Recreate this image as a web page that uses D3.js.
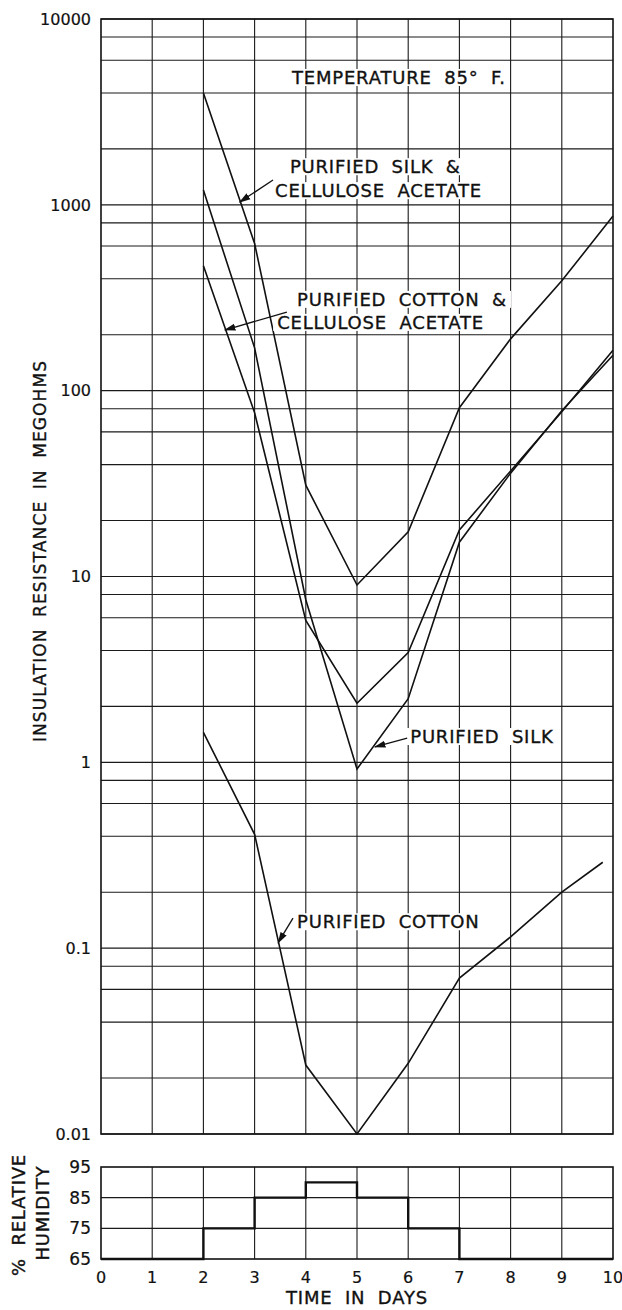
<!DOCTYPE html>
<html>
<head>
<meta charset="utf-8">
<script src="https://cdn.jsdelivr.net/npm/d3@7"></script>
<style>
  body { margin: 0; background: #fff; }
  svg text { font-family: "DejaVu Sans", sans-serif; fill: #111; stroke: #111; stroke-width: 0.35px; }
  .lbl { font-size: 18px; letter-spacing: 0.8px; word-spacing: 6px; }
  .ytitle { font-size: 17px; letter-spacing: 1.1px; word-spacing: 5px; }
  .tick-lbl { font-size: 16px; stroke-width: 0.2px; }
</style>
</head>
<body>
<script>
// insulation resistance (megohms) vs time in days, temperature 85 F
const silkAcetateDays = [2, 3, 4, 5, 6, 7, 8, 9, 10];
const silkAcetate = [4000, 620, 31, 9.0, 17.4, 81, 190, 390, 870];

const silkDays = [2, 3, 4, 5, 6, 7, 8, 9, 10];
const silk = [1200, 170, 7.5, 0.92, 2.2, 15.3, 36, 78, 155];

const cottonAcetateDays = [2, 3, 4, 5, 6, 7, 8, 9, 10];
const cottonAcetate = [470, 76, 5.8, 2.08, 3.9, 17.8, 37, 77, 165];

const cottonDays = [2, 3, 4, 5, 6, 7, 8, 9, 9.8];
const cotton = [1.45, 0.41, 0.0235, 0.01, 0.024, 0.069, 0.115, 0.2, 0.29];

// relative humidity schedule
const humidityDays = [0, 2, 3, 4, 5, 6, 7, 10];
const humidity = [65, 75, 85, 90, 85, 75, 65, 65];

const dayTicks = d3.range(0, 11);
const resTicks = [10000, 1000, 100, 10, 1, 0.1, 0.01];
const resTickLabels = ["10000", "1000", "100", "10", "1", "0.1", "0.01"];
const humTicks = [65, 75, 85, 95];

// annotation anchors in data units (day, megohms)
const labels = [
    { text: "TEMPERATURE  85° F.", day: 3.73, val: 4470 },
    { text: "PURIFIED  SILK  &", day: 3.69, val: 1480 },
    { text: "CELLULOSE  ACETATE", day: 3.40, val: 1100 },
    { text: "PURIFIED  COTTON  &", day: 3.83, val: 286 },
    { text: "CELLULOSE  ACETATE", day: 3.44, val: 215 },
    { text: "PURIFIED  SILK", day: 6.04, val: 1.27 },
    { text: "PURIFIED  COTTON", day: 3.83, val: 0.128 },
];
const arrows = [
    { from: [3.36, 1360], to: [2.71, 1035] },
    { from: [3.63, 265], to: [2.42, 212] },
    { from: [5.98, 1.35], to: [5.35, 1.21] },
    { from: [3.75, 0.145], to: [3.46, 0.107] },
];

const width = 622;
const height = 1310;

const svg = d3.select("body")
    .append("svg")
    .attr("width", width)
    .attr("height", height);

svg.append("defs").append("marker")
    .attr("id", "head")
    .attr("viewBox", "0 0 10 10")
    .attr("refX", 9)
    .attr("refY", 5)
    .attr("markerWidth", 9)
    .attr("markerHeight", 9)
    .attr("orient", "auto")
    .append("path")
    .attr("d", "M0,2 L10,5 L0,8 Z")
    .attr("fill", "#111");

const x = d3.scaleLinear().domain([0, 10]).range([101, 613]);
const y = d3.scaleLog().domain([0.01, 10000]).range([1134, 19]);
const yh = d3.scaleLinear().domain([65, 95]).range([1259, 1167]);

// ---- main grid
const grid = svg.append("g").attr("stroke", "#1a1a1a").attr("stroke-width", 1.1);

const hLines = [];
for (let k = -2; k < 4; k++) {
    [2, 4, 6, 8].forEach((m) => hLines.push(m * Math.pow(10, k)));
}
resTicks.forEach((v) => hLines.push(v));

grid.selectAll(".hl")
    .data(hLines)
    .enter()
    .append("line")
    .attr("x1", x(0))
    .attr("x2", x(10))
    .attr("y1", (d) => y(d))
    .attr("y2", (d) => y(d));

grid.selectAll(".vl")
    .data(dayTicks.slice(1, 10))
    .enter()
    .append("line")
    .attr("x1", (d) => x(d))
    .attr("x2", (d) => x(d))
    .attr("y1", y(10000))
    .attr("y2", y(0.01));

svg.append("rect")
    .attr("x", x(0))
    .attr("y", y(10000))
    .attr("width", x(10) - x(0))
    .attr("height", y(0.01) - y(10000))
    .attr("fill", "none")
    .attr("stroke", "#111")
    .attr("stroke-width", 1.6);

// y tick labels
svg.selectAll(".ylab")
    .data(resTicks)
    .enter()
    .append("text")
    .attr("class", "tick-lbl")
    .attr("x", x(0) - 10)
    .attr("y", (d) => y(d))
    .attr("dy", "0.36em")
    .attr("text-anchor", "end")
    .text((d, i) => resTickLabels[i]);

svg.append("text")
    .attr("class", "ytitle")
    .attr("transform", "translate(46, 551) rotate(-90)")
    .attr("text-anchor", "middle")
    .text("INSULATION  RESISTANCE  IN  MEGOHMS");

// ---- series
const line = d3.line()
    .x((d) => x(d[0]))
    .y((d) => y(d[1]));

const series = [
    d3.zip(silkAcetateDays, silkAcetate),
    d3.zip(silkDays, silk),
    d3.zip(cottonAcetateDays, cottonAcetate),
    d3.zip(cottonDays, cotton),
];

svg.selectAll(".series")
    .data(series)
    .enter()
    .append("path")
    .attr("d", line)
    .attr("fill", "none")
    .attr("stroke", "#111")
    .attr("stroke-width", 1.6);

// ---- labels with white backing
const lg = svg.append("g");
labels.forEach((l) => {
    const t = lg.append("text")
        .attr("class", "lbl")
        .attr("x", x(l.day))
        .attr("y", y(l.val))
        .text(l.text);
    const b = t.node().getBBox();
    lg.insert("rect", "text")
        .attr("x", b.x - 4)
        .attr("y", b.y + 2)
        .attr("width", b.width + 8)
        .attr("height", b.height - 4)
        .attr("fill", "#fff");
});

svg.selectAll(".arrow")
    .data(arrows)
    .enter()
    .append("line")
    .attr("x1", (d) => x(d.from[0]))
    .attr("y1", (d) => y(d.from[1]))
    .attr("x2", (d) => x(d.to[0]))
    .attr("y2", (d) => y(d.to[1]))
    .attr("stroke", "#111")
    .attr("stroke-width", 1.3)
    .attr("marker-end", "url(#head)");

// ---- humidity panel
const hg = svg.append("g").attr("stroke", "#1a1a1a").attr("stroke-width", 1.1);
hg.selectAll(".hh")
    .data([75, 85])
    .enter()
    .append("line")
    .attr("x1", x(0))
    .attr("x2", x(10))
    .attr("y1", (d) => yh(d))
    .attr("y2", (d) => yh(d));

hg.selectAll(".hv")
    .data(dayTicks.slice(1, 10))
    .enter()
    .append("line")
    .attr("x1", (d) => x(d))
    .attr("x2", (d) => x(d))
    .attr("y1", yh(95))
    .attr("y2", yh(65));

svg.append("rect")
    .attr("x", x(0))
    .attr("y", yh(95))
    .attr("width", x(10) - x(0))
    .attr("height", yh(65) - yh(95))
    .attr("fill", "none")
    .attr("stroke", "#111")
    .attr("stroke-width", 1.6);

svg.append("path")
    .datum(d3.zip(humidityDays, humidity))
    .attr("d", d3.line().curve(d3.curveStepAfter).x((d) => x(d[0])).y((d) => yh(d[1])))
    .attr("fill", "none")
    .attr("stroke", "#111")
    .attr("stroke-width", 2.4);

svg.selectAll(".hlab")
    .data(humTicks)
    .enter()
    .append("text")
    .attr("class", "tick-lbl")
    .style("font-size", "17px")
    .attr("x", x(0) - 10)
    .attr("y", (d) => yh(d))
    .attr("dy", "0.36em")
    .attr("text-anchor", "end")
    .text((d) => d);

svg.selectAll(".xlab")
    .data(dayTicks)
    .enter()
    .append("text")
    .attr("class", "tick-lbl")
    .style("font-size", "16px")
    .attr("x", (d) => x(d))
    .attr("y", yh(65) + 24)
    .attr("text-anchor", "middle")
    .text((d) => d);

svg.append("text")
    .attr("class", "lbl")
    .attr("x", x(5))
    .attr("y", 1304)
    .attr("text-anchor", "middle")
    .text("TIME  IN  DAYS");

svg.append("text")
    .attr("class", "lbl")
    .attr("transform", `translate(25, ${(yh(95) + yh(65)) / 2 + 2}) rotate(-90)`)
    .attr("text-anchor", "middle")
    .text("% RELATIVE");

svg.append("text")
    .attr("class", "lbl")
    .attr("transform", `translate(49, ${(yh(95) + yh(65)) / 2}) rotate(-90)`)
    .attr("text-anchor", "middle")
    .text("HUMIDITY");
</script>
</body>
</html>
